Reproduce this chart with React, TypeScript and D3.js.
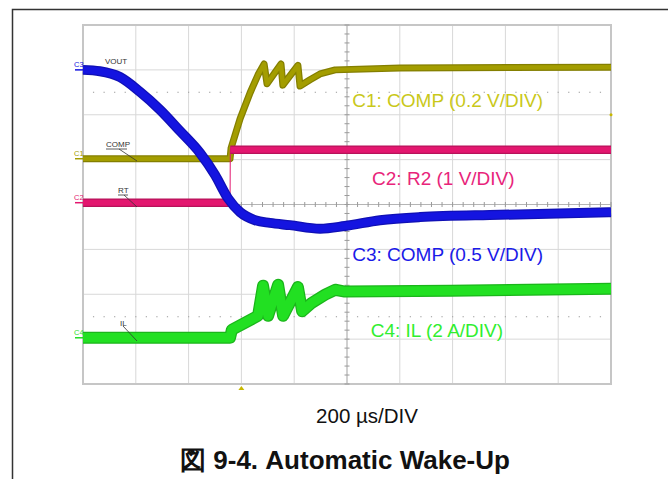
import * as d3 from "d3";

// time in µs (200 µs/DIV, 10 divisions), value in divisions from bottom (8 divisions)
const c1Times = [0, 557, 561, 595, 633, 663, 686, 697, 750, 757, 814, 822, 860, 898, 955, 1201, 2000];
const c1Values = [5.02, 5.02, 5.26, 5.91, 6.49, 6.89, 7.13, 6.69, 7.13, 6.66, 7.1, 6.64, 6.78, 6.91, 7.0, 7.04, 7.06];

const c2Times = [0, 557, 558, 2000];
const c2Values = [4.04, 4.04, 5.22, 5.22];

const c3Times = [0, 64, 140, 216, 292, 367, 443, 500, 549, 595, 652, 708, 784, 898, 992, 1125, 1277, 1580, 2000];
const c3Values = [7.0, 6.97, 6.84, 6.51, 6.11, 5.64, 5.15, 4.66, 4.14, 3.83, 3.65, 3.59, 3.54, 3.46, 3.52, 3.65, 3.72, 3.77, 3.83];

const c4Times = [0, 557, 564, 663, 682, 701, 739, 758, 814, 830, 867, 917, 955, 992, 1390, 2000];
const c4Values = [1.03, 1.03, 1.21, 1.52, 2.19, 1.52, 2.21, 1.52, 2.16, 1.62, 1.81, 1.99, 2.1, 2.06, 2.08, 2.12];

const channelLabels = ["C1", "C2", "C3", "C4"];
const channelLevels = [5.02, 4.04, 7.0, 1.03];
const channelColors = ["#a39d00", "#e3176f", "#1414e0", "#22dd22"];
const channelTextColors = ["#c9c81a", "#e8247a", "#1a1ae8", "#30ee30"];
const annotations = ["C1: COMP (0.2 V/DIV)", "C2: R2 (1 V/DIV)", "C3: COMP (0.5 V/DIV)", "C4: IL (2 A/DIV)"];
const annotationLevels = [6.17, 4.43, 2.74, 1.05];
const annotationStarts = [1020, 1095, 1020, 1090];

const timeDivs = d3.range(0, 2001, 200);
const voltDivs = d3.range(0, 9, 1);

type Pt = [number, number];
const zip = (ts: number[], vs: number[]): Pt[] => ts.map((t, i) => [t, vs[i]]);

export default function App() {
  const width = 668;
  const height = 479;
  const x = d3.scaleLinear().domain([0, 2000]).range([83, 611]);
  const y = d3.scaleLinear().domain([0, 8]).range([384, 25]);

  const line = d3
    .line<Pt>()
    .x((d) => x(d[0]))
    .y((d) => y(d[1]));
  const smooth = d3
    .line<Pt>()
    .x((d) => x(d[0]))
    .y((d) => y(d[1]))
    .curve(d3.curveMonotoneX);

  const c1 = zip(c1Times, c1Values);
  const c2 = zip(c2Times, c2Values);
  const c3 = zip(c3Times, c3Values);
  const c4 = zip(c4Times, c4Values);

  const xc = x(1000);
  const yc = y(4);
  const minorX = d3.range(0, 2001, 40);
  const minorY = d3.range(0, 8.01, 0.2);

  const band = (d: string, color: string, w: number) => (
    <g>
      <path d={d} fill="none" stroke={d3.color(color)!.darker(0.6).formatHex()} strokeWidth={w + 1} strokeLinejoin="round" />
      <path d={d} fill="none" stroke={color} strokeWidth={w - 1.5} strokeLinejoin="round" />
    </g>
  );

  const font = "Arial, 'Liberation Sans', sans-serif";

  return (
    <svg width={width} height={height} style={{ position: "absolute", left: 0, top: 0, background: "#fff" }} fontFamily={font}>
      {/* outer frame */}
      <path d={`M12.5,${height} V9.5 H${width}`} fill="none" stroke="#333" strokeWidth={1.5} />

      {/* grid */}
      {timeDivs.map((t) => (
        <line key={"gx" + t} x1={x(t)} x2={x(t)} y1={y(0)} y2={y(8)} stroke="#d8d8d8" strokeWidth={1} />
      ))}
      {voltDivs.map((v) => (
        <line key={"gy" + v} x1={x(0)} x2={x(2000)} y1={y(v)} y2={y(v)} stroke="#d8d8d8" strokeWidth={1} />
      ))}
      <rect x={x(0)} y={y(8)} width={x(2000) - x(0)} height={y(0) - y(8)} fill="none" stroke="#c6c6c6" strokeWidth={2} />

      {/* dotted reference lines */}
      {[6.5, 1.5].map((v) =>
        minorX.slice(1, -1).map((t) => (
          <rect key={"d" + v + "-" + t} x={x(t) - 0.6} y={y(v) - 0.6} width={1.2} height={1.2} fill="#aaa" />
        ))
      )}

      {/* center axes with ticks */}
      <line x1={xc} x2={xc} y1={y(0)} y2={y(8)} stroke="#b5b5b5" strokeWidth={1} />
      <line x1={x(0)} x2={x(2000)} y1={yc} y2={yc} stroke="#b5b5b5" strokeWidth={1} />
      {minorX.map((t) => (
        <line key={"tx" + t} x1={x(t)} x2={x(t)} y1={yc - 2.5} y2={yc + 2.5} stroke="#9a9a9a" strokeWidth={1} />
      ))}
      {minorY.map((v) => (
        <line key={"ty" + v} x1={xc - 2.5} x2={xc + 2.5} y1={y(v)} y2={y(v)} stroke="#9a9a9a" strokeWidth={1} />
      ))}

      {/* trigger markers */}
      <path d={`M${x(600) - 3},${y(0) + 6} L${x(600)},${y(0) + 2} L${x(600) + 3},${y(0) + 6} Z`} fill="#c8b800" />
      <circle cx={x(2000)} cy={y(6)} r={1.5} fill="#c8b800" />

      {/* traces */}
      {band(line(c1)!, channelColors[0], 6)}
      <path d={line(c2)!} fill="none" stroke={channelColors[1]} strokeWidth={1} />
      {band(line(c2.slice(0, 2))!, channelColors[1], 7.5)}
      {band(line(c2.slice(2))!, channelColors[1], 7.5)}
      {band(line(c4)!, "#22e022", 11)}
      {band(smooth(c3)!, channelColors[2], 9)}

      {/* channel markers */}
      {channelLabels.map((c, i) => (
        <g key={c}>
          <line x1={x(0) - 8} x2={x(0)} y1={y(channelLevels[i])} y2={y(channelLevels[i])} stroke={channelColors[i]} strokeWidth={1.5} />
          <text x={x(0) - 9} y={y(channelLevels[i]) - 3} fontSize={7.5} fill={i === 3 ? "#30dd30" : channelColors[i]}>
            {c}
          </text>
        </g>
      ))}

      {/* probe labels */}
      <text x={105} y={64} fontSize={8} fill="#333">VOUT</text>
      <text x={106} y={147} fontSize={8} fill="#333">COMP</text>
      <line x1={106} x2={127} y1={149} y2={149} stroke="#333" strokeWidth={0.8} />
      <line x1={119} x2={137} y1={149} y2={161} stroke="#333" strokeWidth={0.8} />
      <text x={118} y={193} fontSize={8} fill="#333">RT</text>
      <line x1={118} x2={128} y1={195} y2={195} stroke="#333" strokeWidth={0.8} />
      <line x1={124} x2={137} y1={195} y2={207} stroke="#333" strokeWidth={0.8} />
      <text x={120} y={326} fontSize={8} fill="#333">IL</text>
      <line x1={123} x2={137} y1={326} y2={341} stroke="#333" strokeWidth={0.8} />

      {/* channel scale annotations */}
      {annotations.map((a, i) => (
        <text key={a} x={x(annotationStarts[i])} y={y(annotationLevels[i])} fontSize={19} fill={channelTextColors[i]}>
          {a}
        </text>
      ))}

      <text x={367} y={423} fontSize={20.5} textAnchor="middle" fill="#111">
        200 µs/DIV
      </text>
      <text x={345} y={469} fontSize={26} fontWeight="bold" textAnchor="middle" fill="#111">
        図 9-4. Automatic Wake-Up
      </text>
    </svg>
  );
}
